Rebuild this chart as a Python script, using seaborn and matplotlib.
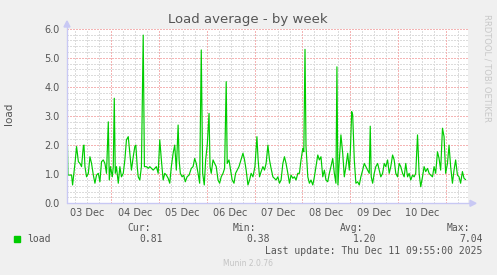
import numpy as np
import pandas as pd
import matplotlib
matplotlib.use("Agg")
import matplotlib.pyplot as plt
from matplotlib.patches import Rectangle
import seaborn as sns

# ---------------- data ----------------
start_time = "2025-12-03 02:00"
hours = [0.0, 0.5, 2.3, 2.8, 4.0, 4.8, 5.7, 6.5, 7.3, 8.2, 8.5, 9.0, 9.8, 10.7, 11.5, 12.3,
         13.2, 14.0, 14.8, 15.7, 16.5, 17.3, 18.2, 19.0, 19.8, 20.7, 21.2, 21.8, 22.7, 23.2,
         23.7, 24.2, 24.8, 25.7, 26.5, 27.3, 28.2, 29.0, 29.8, 30.7, 31.5, 32.3, 33.2, 34.0,
         34.5, 35.2, 35.7, 36.5, 37.3, 38.2, 38.8, 39.8, 40.7, 41.5, 43.2, 44.8, 45.7, 46.5,
         47.3, 48.2, 49.0, 49.8, 50.7, 51.5, 52.3, 53.2, 54.0, 54.8, 55.7, 56.2, 56.8, 57.7,
         58.5, 59.3, 60.2, 61.2, 62.3, 63.2, 64.0, 64.8, 65.7, 66.5, 67.3, 68.0, 68.8, 69.5,
         70.3, 71.2, 71.7, 72.3, 73.2, 74.0, 74.8, 75.7, 76.5, 77.3, 78.2, 79.0, 79.8, 80.3,
         81.2, 82.0, 82.8, 83.7, 84.5, 85.3, 86.2, 87.2, 88.2, 89.0, 89.8, 90.7, 91.5, 92.3,
         93.2, 94.2, 95.2, 95.8, 96.5, 97.3, 98.2, 99.0, 99.8, 100.7, 101.5, 102.3, 103.2,
         104.8, 105.7, 106.5, 107.3, 108.2, 109.0, 109.8, 110.7, 111.5, 112.3, 113.2, 114.0,
         114.8, 115.7, 116.5, 117.3, 118.2, 118.7, 119.3, 119.8, 120.7, 121.5, 122.3, 123.2,
         124.0, 124.8, 125.7, 126.5, 127.3, 128.2, 129.0, 129.8, 130.7, 131.5, 132.3, 133.2,
         134.0, 134.8, 135.3, 135.8, 136.5, 137.3, 138.2, 139.0, 139.8, 140.7, 141.5, 142.0,
         142.7, 143.2, 144.0, 144.8, 145.7, 146.5, 147.3, 148.2, 149.0, 149.8, 150.7, 151.5,
         152.0, 152.5, 153.2, 154.0, 154.8, 155.7, 156.5, 157.3, 158.2, 159.0, 159.8, 160.7,
         161.5, 162.3, 163.2, 164.0, 164.8, 165.7, 166.5, 167.3, 168.2, 169.0, 169.8, 170.7,
         171.5, 172.3, 173.2, 174.0, 174.8, 175.7, 176.5, 177.3, 178.2, 179.0, 179.8, 180.7,
         181.5, 182.3, 183.2, 184.0, 184.8, 185.7, 186.5, 187.3, 188.2, 189.0, 189.8, 190.7,
         191.5, 192.3, 193.2, 194.0, 194.8, 195.7, 196.5, 197.3, 198.2, 199.0, 199.8]
load = [2.90, 0.97, 0.97, 0.63, 1.37, 1.95, 1.43, 1.37, 1.26, 1.97, 2.00, 1.26, 0.91, 1.03, 1.60, 1.37,
        0.97, 0.69, 0.97, 1.03, 0.74, 1.43, 1.49, 1.37, 1.03, 2.80, 0.80, 1.26, 0.91, 1.26,
        3.61, 1.03, 1.26, 0.69, 1.26, 0.91, 1.03, 1.49, 2.18, 2.29, 1.72, 1.14, 1.60, 1.95,
        2.00, 1.26, 0.91, 0.80, 1.26, 5.78, 1.26, 1.26, 1.20, 1.26, 1.14, 1.26, 1.03, 2.18,
        1.49, 0.80, 1.03, 0.97, 0.86, 0.69, 1.26, 1.72, 2.00, 1.14, 2.69, 1.49, 1.03, 0.91,
        0.97, 0.74, 0.91, 0.97, 1.20, 1.26, 1.54, 1.37, 1.03, 0.69, 5.27, 1.03, 0.63, 1.49,
        2.00, 3.09, 1.26, 1.03, 1.49, 1.37, 1.26, 0.80, 0.69, 0.91, 1.03, 1.20, 4.18, 1.37,
        1.49, 1.14, 0.80, 0.69, 1.03, 1.14, 1.26, 1.49, 1.72, 1.49, 1.14, 0.63, 0.80, 1.03,
        0.91, 1.26, 2.29, 1.49, 0.91, 1.09, 1.26, 1.14, 1.37, 2.00, 1.49, 1.20, 0.91,
        0.80, 0.91, 0.69, 0.80, 1.37, 1.60, 1.37, 1.03, 0.69, 0.97, 0.86, 0.91,
        0.80, 1.03, 1.03, 1.49, 1.89, 1.77, 5.29, 1.95, 0.91, 0.69, 0.80, 0.63,
        0.91, 1.26, 1.66, 1.49, 1.60, 0.91, 1.14, 0.80, 0.74, 1.03, 1.26, 1.54,
        1.03, 0.69, 4.69, 0.63, 1.49, 2.35, 1.72, 0.91, 1.26, 1.72, 1.14, 1.72,
        3.15, 3.04, 1.49, 0.69, 0.74, 0.63, 0.91, 1.14, 1.37, 1.26, 1.14, 1.03,
        2.65, 0.91, 0.69, 1.03, 1.26, 1.37, 1.14, 0.91, 1.03, 1.37, 1.26, 1.49,
        1.03, 1.26, 1.66, 1.49, 1.03, 0.91, 1.37, 1.26, 1.03, 0.91, 1.37, 0.91,
        1.03, 0.80, 0.97, 0.91, 1.03, 2.35, 1.03, 0.57, 0.91, 1.26, 1.09, 1.20,
        1.03, 0.97, 0.91, 1.26, 1.03, 1.77, 1.54, 1.14, 2.58, 2.29, 1.03, 1.37,
        2.00, 1.26, 0.69, 1.14, 1.49, 0.97, 0.91, 0.69, 1.09, 0.86, 0.81]
day_labels = ["03 Dec", "04 Dec", "05 Dec", "06 Dec", "07 Dec", "08 Dec", "09 Dec", "10 Dec"]
y_ticks = [0.0, 1.0, 2.0, 3.0, 4.0, 5.0, 6.0]
stat_names = ["Cur:", "Min:", "Avg:", "Max:"]
stat_values = ["0.81", "0.38", "1.20", "7.04"]
series_name = "load"
title = "Load average - by week"
last_update = "Last update: Thu Dec 11 09:55:00 2025"

# ---------------- figure ----------------
W, H = 497, 275
sns.set_theme(style="white")
plt.rcParams["font.family"] = ["DejaVu Sans"]

t0 = pd.Timestamp(start_time)
df = pd.DataFrame({"time": t0 + pd.to_timedelta(hours, unit="h"), "load": load})

fig = plt.figure(figsize=(W / 100, H / 100), dpi=100, facecolor="#F0F0F0")
L, R, T, B = 67, 467.5, 28.7, 203.3
ax = fig.add_axes([L / W, 1 - B / H, (R - L) / W, (B - T) / H])
ax.set_facecolor("white")

xmin = t0
xmax = t0 + pd.Timedelta(hours=200.75)
ax.set_xlim(xmin, xmax)
ax.set_ylim(0, 6)

# grid
dot = (0, (1, 1.3))
grey = "#DCDCDC"
red = "#F4B4B4"
for v in np.arange(0.2, 6.01, 0.2):
    is_major = abs(v - round(v)) < 1e-6
    ax.axhline(v, color=red if is_major else grey, lw=0.75, ls=dot, zorder=1 if is_major else 0,
               antialiased=False)
g = pd.date_range(pd.Timestamp("2025-12-03 06:00"), xmax, freq="6h")
for tt in g:
    major = tt.hour == 0
    ax.axvline(tt, color=red if major else grey, lw=0.75, ls=dot, zorder=1 if major else 0,
               antialiased=False)

sns.lineplot(data=df, x="time", y="load", ax=ax, color="#00CC00", lw=0.85, zorder=3)

for s in ax.spines.values():
    s.set_visible(False)

noons = [pd.Timestamp("2025-12-03 12:00") + pd.Timedelta(days=i) for i in range(len(day_labels))]
ax.set_xticks(noons)
ax.set_xticklabels(day_labels)
ax.set_yticks(y_ticks)
ax.set_yticklabels([f"{v:.1f}" for v in y_ticks])
ax.tick_params(axis="both", length=0, labelsize=7, labelcolor="#555555")
ax.tick_params(axis="y", pad=5)
ax.tick_params(axis="x", pad=3.5)
ax.set_xlabel("")
ax.set_ylabel("")

def fx(x):
    return x / W

def fy(y):
    return 1 - y / H

# axis arrows
acol = "#C8C8F4"
fig.add_artist(plt.Line2D([fx(L), fx(L)], [fy(B), fy(24)], color=acol, lw=1.0))
fig.add_artist(plt.Line2D([fx(L), fx(471)], [fy(B), fy(B)], color=acol, lw=1.0))
fig.add_artist(plt.Polygon([[fx(L - 3), fy(27)], [fx(L + 3), fy(27)], [fx(L), fy(21)]],
                           closed=True, color=acol))
fig.add_artist(plt.Polygon([[fx(470), fy(B - 3)], [fx(470), fy(B + 3)], [fx(476), fy(B)]],
                           closed=True, color=acol))

# texts
fig.text(fx(248), fy(19), title, ha="center", va="center", fontsize=9.5, color="#555555")
fig.text(fx(9), fy(114), "load", rotation=90, ha="center", va="center", fontsize=7.5, color="#555555")
fig.text(fx(487), fy(14), "RRDTOOL / TOBI OETIKER", rotation=270, ha="center", va="top",
         fontsize=6, color="#C8C8C8")

mono = "DejaVu Sans Mono"
fig.add_artist(Rectangle((fx(14), fy(242)), 6 / W, 6 / H, color="#00CC00"))
fig.text(fx(27), fy(239.5), series_name, ha="left", va="center", fontsize=7, family=mono, color="#555555")
hdr_x = [127, 233, 340, 447]
val_x = [162.5, 269.5, 376.5, 482.5]
for name, hx in zip(stat_names, hdr_x):
    fig.text(fx(hx), fy(228), name, ha="left", va="center", fontsize=7, family=mono, color="#555555")
for val, vx in zip(stat_values, val_x):
    fig.text(fx(vx), fy(239.5), val, ha="right", va="center", fontsize=7, family=mono, color="#555555")
fig.text(fx(482.5), fy(251.5), last_update, ha="right", va="center", fontsize=7, family=mono, color="#555555")
fig.text(fx(248), fy(264), "Munin 2.0.76", ha="center", va="center", fontsize=5.5, color="#C4C4C4")

fig.savefig("out.png", dpi=100, facecolor=fig.get_facecolor())
